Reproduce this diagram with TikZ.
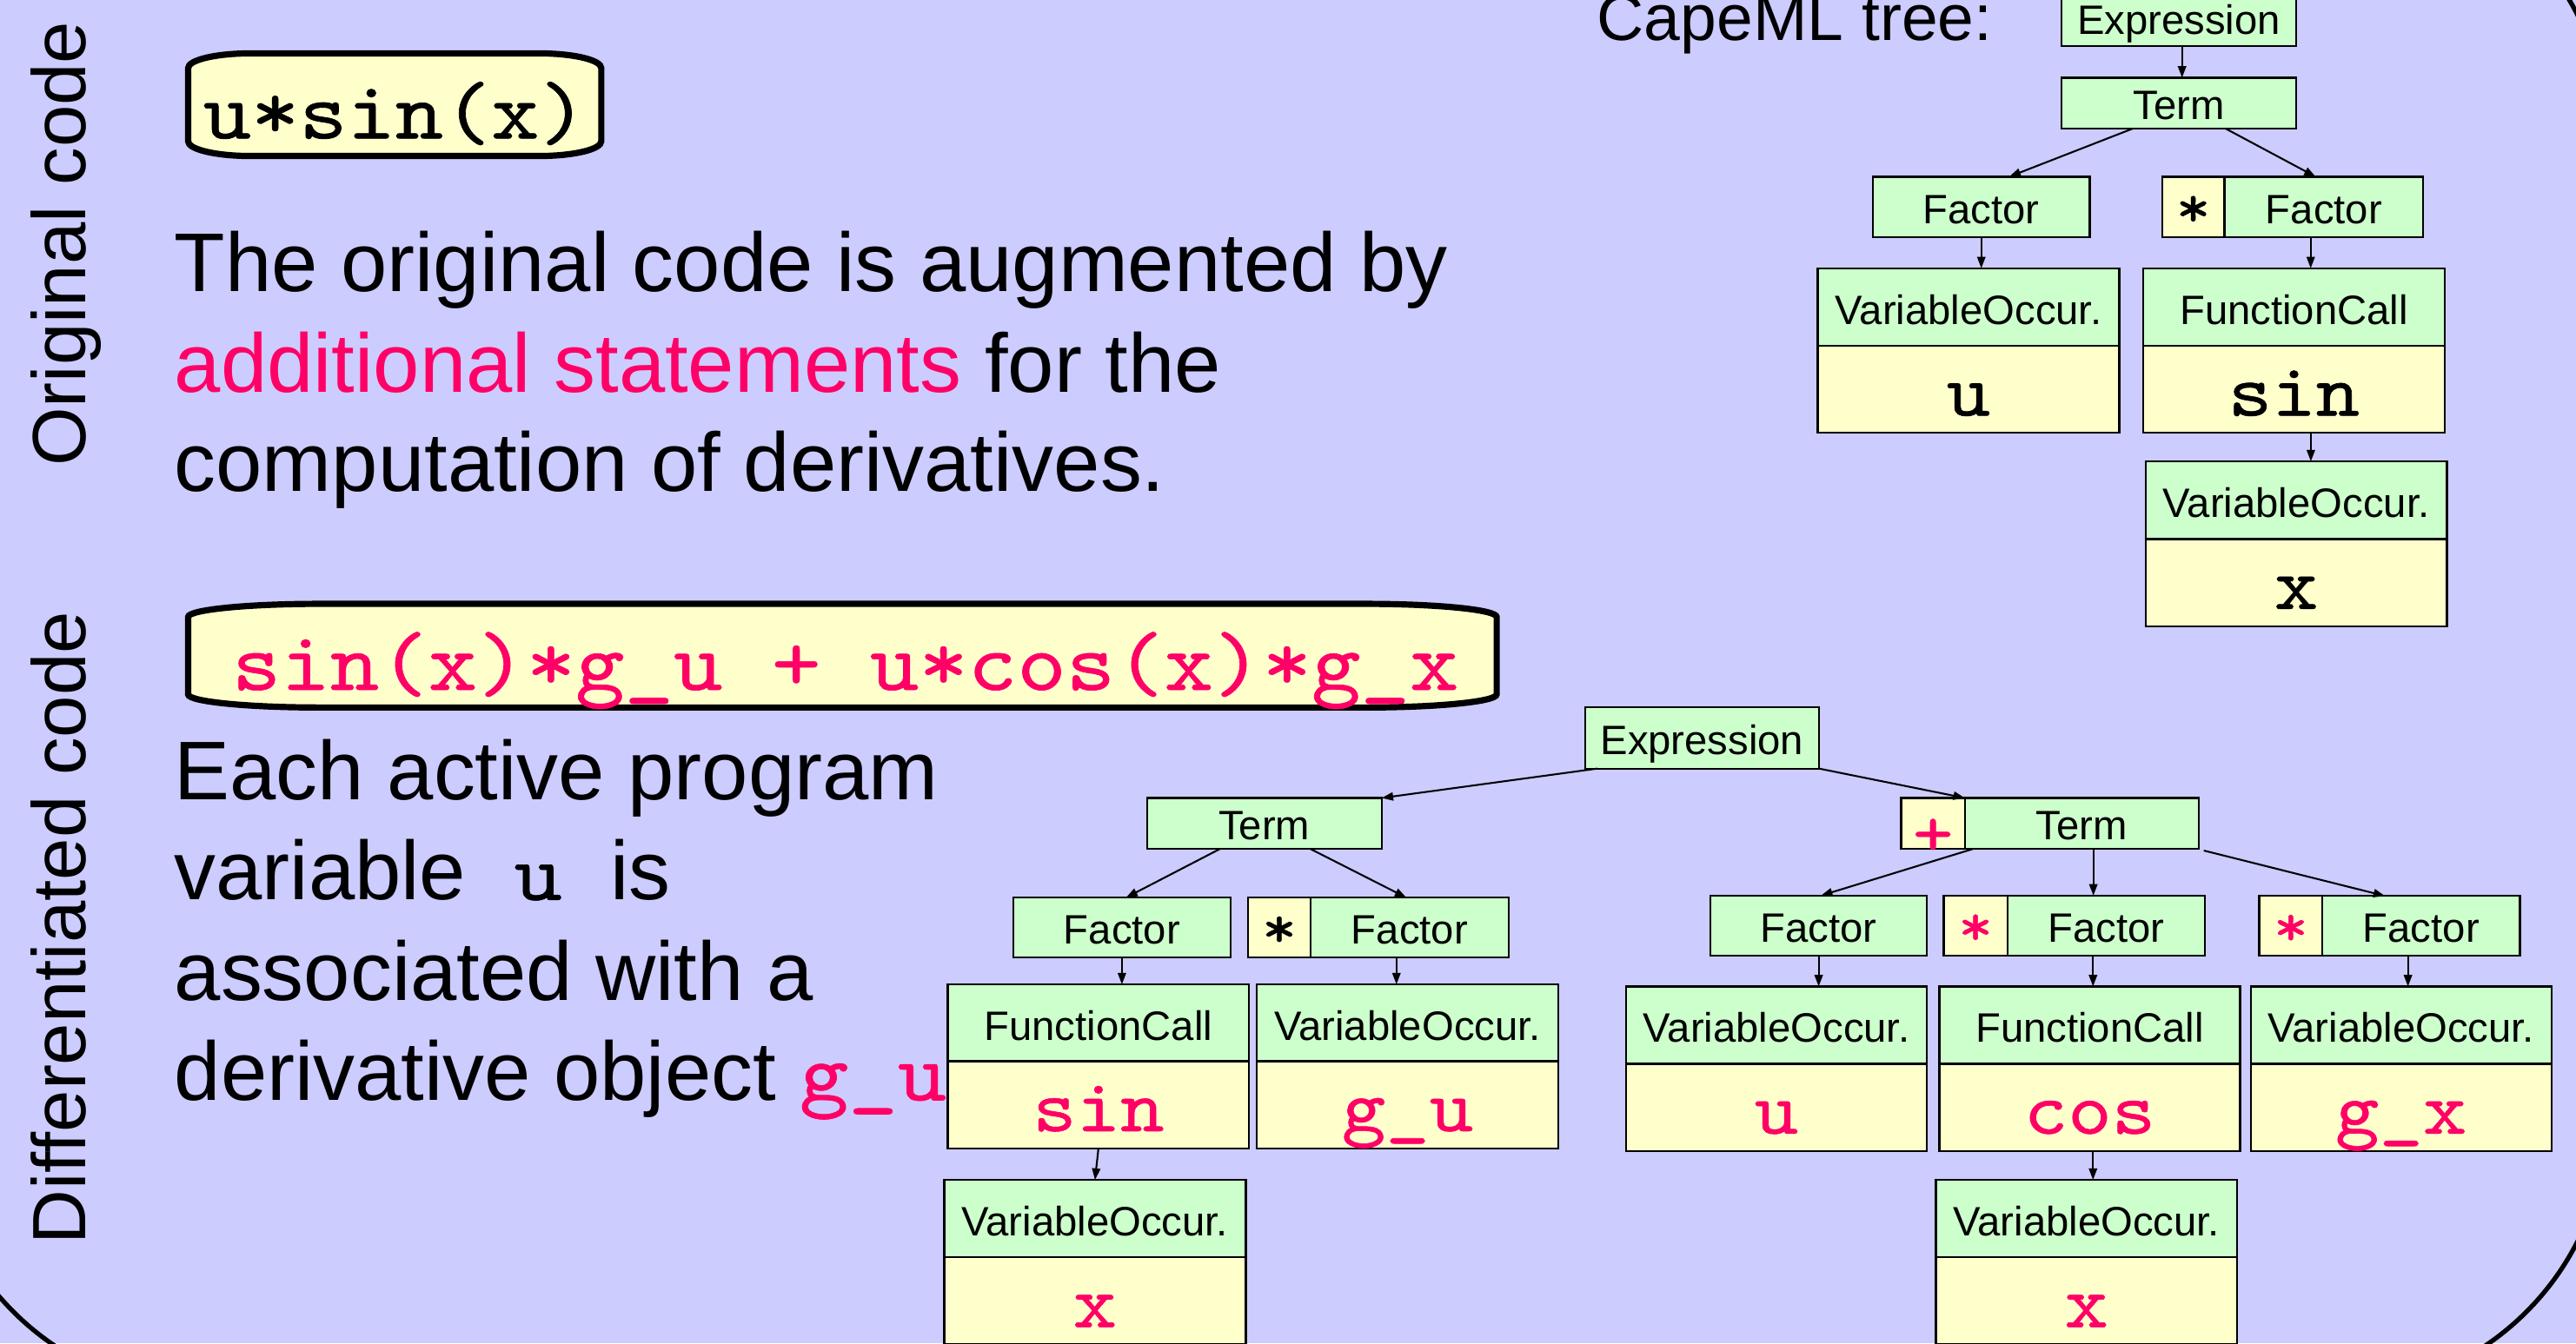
\documentclass[tikz,border=0pt]{standalone}
\usepackage{fontspec}
\setmainfont{Liberation Sans}
\newfontfamily\codefont{lmmono10-regular.otf}[FakeStretch=1.12,FakeBold=0.7]
\usetikzlibrary{arrows.meta,calc}
\definecolor{bg}{HTML}{CCCCFF}
\definecolor{grn}{HTML}{CCFFCC}
\definecolor{ylw}{HTML}{FFFFCC}
\definecolor{pnk}{HTML}{FF0066}
\newcommand\mycode{\codefont\fontsize{49.7}{55}\selectfont}
\newcommand\mycodeb{\codefont\fontsize{50.8}{55}\selectfont}
\begin{document}
\begin{tikzpicture}[x=1pt,y=-1pt,
  lab/.style={draw, line width=1.2pt, fill=grn, inner sep=0pt, outer sep=0pt,
    font=\fontsize{25}{30}\selectfont, text height=20pt, text depth=0pt},
  hdr/.style={lab, text height=21pt},
  val/.style={draw, line width=1.2pt, fill=ylw, inner sep=0pt, outer sep=0pt,
    font=\codefont\fontsize{45.4}{50}\selectfont, text height=32pt, text depth=0pt},
  opc/.style={draw, line width=1.2pt, fill=ylw, inner sep=0pt, outer sep=0pt},
  optxt/.style={inner sep=0pt, anchor=base, font=\codefont\fontsize{36}{40}\selectfont},
  arr/.style={line width=1.1pt, -{Triangle[length=7pt,width=5pt]}},
  body/.style={inner sep=0pt, anchor=base west, font=\fontsize{50.7}{61}\selectfont},
  codebox/.style={line width=3.8pt, fill=ylw, draw=black}
]
\useasboundingbox (0,0) rectangle (1568,818);
\clip (0,0) rectangle (1568,818);
\fill[bg] (0,0) rectangle (1568,818);
\draw[line width=2.8pt, rounded corners=168pt] (-41,-83) rectangle (1587,848);

% side labels
\node[rotate=90, anchor=base, inner sep=0pt, font=\fontsize{46}{50}\selectfont] (lblO) at (52,148.5) {Original code};
\node[rotate=90, anchor=base, inner sep=0pt, font=\fontsize{46}{50}\selectfont] (lblD) at (52,565) {Differentiated code};

% code boxes
\draw[codebox] (114.5,41.5) -- (114.5,86) .. controls (114.5,91) and (131.5,95) .. (152.5,95)
  -- (328,95) .. controls (349,95) and (366,91) .. (366,86)
  -- (366,41.5) .. controls (366,36.5) and (349,32.5) .. (328,32.5)
  -- (152.5,32.5) .. controls (131.5,32.5) and (114.5,36.5) .. (114.5,41.5) -- cycle;
\node[inner sep=0pt, anchor=base west, font=\mycode] (c1) at (123.5,84.3) {u*sin(x)};

\draw[codebox] (114.5,375.7) -- (114.5,422.8) .. controls (114.5,427.2) and (150.3,430.8) .. (194.5,430.8)
  -- (831,430.8) .. controls (875.2,430.8) and (911,427.2) .. (911,422.8)
  -- (911,375.7) .. controls (911,371.3) and (875.2,367.7) .. (831,367.7)
  -- (194.5,367.7) .. controls (150.3,367.7) and (114.5,371.3) .. (114.5,375.7) -- cycle;
\node[inner sep=0pt, anchor=base west, font=\mycodeb, text=pnk] (c2) at (141,420.1) {sin(x)*g\_u + u*cos(x)*g\_x};

% paragraphs
\node[body] (p1a) at (106,177.5) {The original code is augmented by};
\node[body] (p1b) at (106,238.9) {\textcolor{pnk}{additional statements} for the};
\node[body] (p1c) at (106,299.3) {computation of derivatives.};
\node[body] (p2a) at (106,487.1) {Each active program};
\node[body] (p2b) at (106,548) {variable{\mycode\ u\ }is};
\node[body] (p2c) at (106,609) {associated with a};
\node[body] (p2d) at (106,670) {derivative object \textcolor{pnk}{\mycodeb g\_u}};

\node[inner sep=0pt, anchor=base west, font=\fontsize{39.7}{44}\selectfont] (cape) at (972,24.6) {CapeML tree:};

% ---------- top tree ----------
\node[lab, minimum width=142.5pt, minimum height=34pt] (E1) at (1326.2,11) {Expression};
\node[lab, minimum width=142.5pt, minimum height=31pt] (T1) at (1326.2,62.8) {Term};
\node[lab, minimum width=132pt, minimum height=37pt] (F1a) at (1206,126.1) {Factor};
\node[opc, minimum width=38pt, minimum height=37pt] (S1) at (1335,126.1) {};
\node[optxt] (S1t) at ($(S1.center)+(0,12)$) {*};
\node[lab, minimum width=121pt, minimum height=37pt] (F1b) at (1414.5,126.1) {Factor};

\node[hdr, minimum width=183.5pt, minimum height=47.3pt] (VO1h) at (1198.2,187) {VariableOccur.};
\node[val, minimum width=183.5pt, minimum height=52.9pt, anchor=north] (VO1v) at (VO1h.south) {u};
\node[hdr, minimum width=183.8pt, minimum height=47.3pt] (FC1h) at (1396.3,187) {FunctionCall};
\node[val, minimum width=183.8pt, minimum height=52.9pt, anchor=north] (FC1v) at (FC1h.south) {sin};
\node[hdr, minimum width=183.4pt, minimum height=47.3pt] (VX1h) at (1397.7,304.6) {VariableOccur.};
\node[val, minimum width=183.4pt, minimum height=53pt, anchor=north] (VX1v) at (VX1h.south) {x};

\draw[arr] ($(E1.south)+(2,0)$) -- ($(T1.north)+(2,0)$);
\draw[arr] ($(T1.south)+(-28,0)$) -- ($(F1a.north)+(17,0)$);
\draw[arr] ($(T1.south)+(28.5,0)$) -- ($(F1b.north)+(-5,0)$);
\draw[arr] (F1a.south) -- (F1a.south |- VO1h.north);
\coordinate (a2) at ($(F1b.south)+(-8,0)$);
\draw[arr] (a2) -- (a2 |- FC1h.north);
\coordinate (a3) at ($(FC1v.south)+(10.3,0)$);
\draw[arr] (a3) -- (a3 |- VX1h.north);

% ---------- bottom tree ----------
\node[lab, minimum width=142.5pt, minimum height=37.2pt] (E2) at (1036,449.4) {Expression};
\node[lab, minimum width=142.8pt, minimum height=31pt] (T2a) at (769.6,501.4) {Term};
\node[opc, minimum width=38.8pt, minimum height=31pt] (P2) at (1176.6,501.4) {};
\node[optxt, font=\codefont\fontsize{42}{46}\selectfont, text=pnk] (P2t) at ($(P2.center)+(0,19.5)$) {+};
\node[lab, minimum width=142.4pt, minimum height=31pt] (T2b) at (1267.2,501.4) {Term};

\node[lab, minimum width=132pt, minimum height=36.5pt] (F2a) at (682.9,564.8) {Factor};
\node[opc, minimum width=38.1pt, minimum height=36.5pt] (S2a) at (778.7,564.8) {};
\node[optxt] (S2at) at ($(S2a.center)+(0,12)$) {*};
\node[lab, minimum width=120.5pt, minimum height=36.5pt] (F2b) at (858,564.8) {Factor};

\node[hdr, minimum width=183.5pt, minimum height=46.8pt] (FC2h) at (668.6,622.8) {FunctionCall};
\node[val, text=pnk, minimum width=183.5pt, minimum height=53.1pt, anchor=north] (FC2v) at (FC2h.south) {sin};
\node[hdr, minimum width=183.5pt, minimum height=46.8pt] (VG2h) at (856.8,622.8) {VariableOccur.};
\node[val, text=pnk, minimum width=183.5pt, minimum height=53.1pt, anchor=north] (VG2v) at (VG2h.south) {g\_u};
\node[hdr, minimum width=183.6pt, minimum height=47.1pt] (VX2h) at (666.5,742) {VariableOccur.};
\node[val, text=pnk, minimum width=183.6pt, minimum height=53.1pt, anchor=north] (VX2v) at (VX2h.south) {x};

\node[lab, minimum width=132pt, minimum height=36.5pt] (F2c) at (1107,563.6) {Factor};
\node[opc, minimum width=38.7pt, minimum height=36.5pt] (S2c) at (1202.5,563.6) {};
\node[optxt, text=pnk] (S2ct) at ($(S2c.center)+(0,12)$) {*};
\node[lab, minimum width=120.2pt, minimum height=36.5pt] (F2d) at (1282,563.6) {Factor};
\node[opc, minimum width=38.4pt, minimum height=36.5pt] (S2e) at (1394.4,563.8) {};
\node[optxt, text=pnk] (S2et) at ($(S2e.center)+(0,12)$) {*};
\node[lab, minimum width=120.2pt, minimum height=36.5pt] (F2f) at (1473.7,563.8) {Factor};

\node[hdr, minimum width=183.4pt, minimum height=47.1pt] (VU2h) at (1081.3,624.2) {VariableOccur.};
\node[val, text=pnk, minimum width=183.4pt, minimum height=53.1pt, anchor=north] (VU2v) at (VU2h.south) {u};
\node[hdr, minimum width=183.1pt, minimum height=47.1pt] (FC3h) at (1272,624.2) {FunctionCall};
\node[val, text=pnk, minimum width=183.1pt, minimum height=53.1pt, anchor=north] (FC3v) at (FC3h.south) {cos};
\node[hdr, minimum width=183pt, minimum height=47.1pt] (VG3h) at (1461.5,624.2) {VariableOccur.};
\node[val, text=pnk, minimum width=183pt, minimum height=53.1pt, anchor=north] (VG3v) at (VG3h.south) {g\_x};
\node[hdr, minimum width=183.4pt, minimum height=47.1pt] (VX3h) at (1270,742) {VariableOccur.};
\node[val, text=pnk, minimum width=183.4pt, minimum height=53.1pt, anchor=north] (VX3v) at (VX3h.south) {x};

\draw[arr] ($(E2.south west)+(7.5,0)$) -- (T2a.north east);
\draw[arr] (E2.south east) -- (T2b.north west);
\draw[arr] ($(T2a.south)+(-27,0)$) -- ($(F2a.north)+(2.5,0)$);
\draw[arr] ($(T2a.south)+(28,0)$) -- ($(F2b.north)+(-2,0)$);
\draw[arr] (F2a.south) -- (F2a.south |- FC2h.north);
\coordinate (b1) at ($(F2b.south)+(-8,0)$);
\draw[arr] (b1) -- (b1 |- VG2h.north);
\draw[arr] (FC2v.south) -- (VX2h.north);
\draw[arr] ($(T2b.south west)+(5,0)$) -- ($(F2c.north)+(1.4,0)$);
\coordinate (b2) at ($(T2b.south)+(7,0)$);
\draw[arr] (b2) -- (b2 |- F2d.north);
\draw[arr] ($(T2b.south east)+(3,1)$) -- ($(F2f.north)+(-22,0)$);
\draw[arr] (F2c.south) -- (F2c.south |- VU2h.north);
\coordinate (b3) at ($(F2d.south)+(-8,0)$);
\draw[arr] (b3) -- (b3 |- FC3h.north);
\coordinate (b4) at ($(F2f.south)+(-8,0)$);
\draw[arr] (b4) -- (b4 |- VG3h.north);
\coordinate (b5) at ($(FC3v.south)+(2,0)$);
\draw[arr] (b5) -- (b5 |- VX3h.north);
\end{tikzpicture}
\end{document}
